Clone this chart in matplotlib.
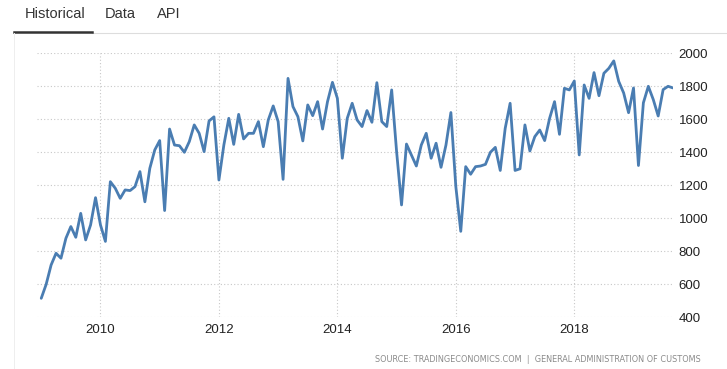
import matplotlib.pyplot as plt
from matplotlib.lines import Line2D
import pandas as pd

# monthly values, Jan 2009 .. Sep 2019
months = pd.date_range('2009-01-01', periods=129, freq='MS')
values = [515, 600, 717, 788, 758, 879, 950, 885, 1030, 869, 960, 1125,
          960, 860, 1222, 1182, 1121, 1172, 1168, 1192, 1283, 1100, 1303, 1414,
          1471, 1047, 1541, 1444, 1440, 1400, 1465, 1566, 1515, 1404, 1590, 1615,
          1232, 1444, 1606, 1448, 1630, 1481, 1515, 1515, 1586, 1434, 1596, 1681,
          1586, 1236, 1848, 1677, 1616, 1469, 1687, 1622, 1707, 1541, 1707, 1824,
          1727, 1364, 1606, 1697, 1596, 1556, 1653, 1582, 1822, 1586, 1556, 1778,
          1404, 1081, 1450, 1384, 1317, 1444, 1515, 1364, 1455, 1309, 1444, 1641,
          1192, 921, 1313, 1267, 1313, 1317, 1327, 1400, 1430, 1290, 1545, 1697,
          1290, 1300, 1566, 1408, 1495, 1535, 1471, 1606, 1707, 1509, 1788, 1778,
          1832, 1384, 1808, 1727, 1883, 1743, 1879, 1909, 1954, 1830, 1760, 1640,
          1790, 1320, 1700, 1800, 1720, 1620, 1780, 1800, 1790]

year_ticks = [2010, 2012, 2014, 2016, 2018]
y_ticks = [400, 600, 800, 1000, 1200, 1400, 1600, 1800, 2000]
tabs = ['Historical', 'Data', 'API']
source = 'SOURCE: TRADINGECONOMICS.COM  |  GENERAL ADMINISTRATION OF CUSTOMS'

# decimal years for x
x = [d.year + (d.month - 1) / 12 for d in months]

fig = plt.figure(figsize=(7.27, 3.69), dpi=100)
fig.patch.set_facecolor('white')
ax = fig.add_axes([36.5/727, 1 - 317.3/369, (673 - 36.5)/727, (317.3 - 53.3)/369])

ax.plot(x, values, color='#4a7db2', lw=2.0, solid_joinstyle='round', solid_capstyle='round')

ax.set_xlim(2008.92, x[-1])
ax.set_ylim(400, 2000)
ax.set_xticks(year_ticks)
ax.set_xticklabels([str(y) for y in year_ticks])
ax.set_yticks(y_ticks)
ax.yaxis.tick_right()
ax.tick_params(axis='both', length=0, labelsize=9.5, labelcolor='#222')
ax.tick_params(axis='y', pad=4)
ax.tick_params(axis='x', pad=5)
for lab in ax.get_xticklabels() + ax.get_yticklabels():
    lab.set_family('Liberation Sans')
ax.grid(True, color='#c8c8c8', linestyle=(0, (1, 2)), linewidth=0.8)
ax.set_axisbelow(True)
for s in ax.spines.values():
    s.set_visible(False)

# tabs
tab_x = [25, 105, 157]
for t, tx in zip(tabs, tab_x):
    fig.text(tx/727, 1 - 14/369, t, fontsize=10.5, family='Liberation Sans',
             color='#333', va='center', ha='left')
fig.add_artist(Line2D([92/727, 1], [1 - 32.5/369]*2, color='#dddddd', lw=0.8))
fig.add_artist(Line2D([14/727, 92/727], [1 - 32/369]*2, color='#333333', lw=1.8))
fig.add_artist(Line2D([13.5/727, 13.5/727], [1 - 33/369, 0], color='#eeeeee', lw=0.7))

fig.text(701/727, 1 - 359/369, source, fontsize=5.9, family='DejaVu Sans',
         color='#8a8a8a', ha='right', va='center')

plt.savefig('out.png', dpi=100)
